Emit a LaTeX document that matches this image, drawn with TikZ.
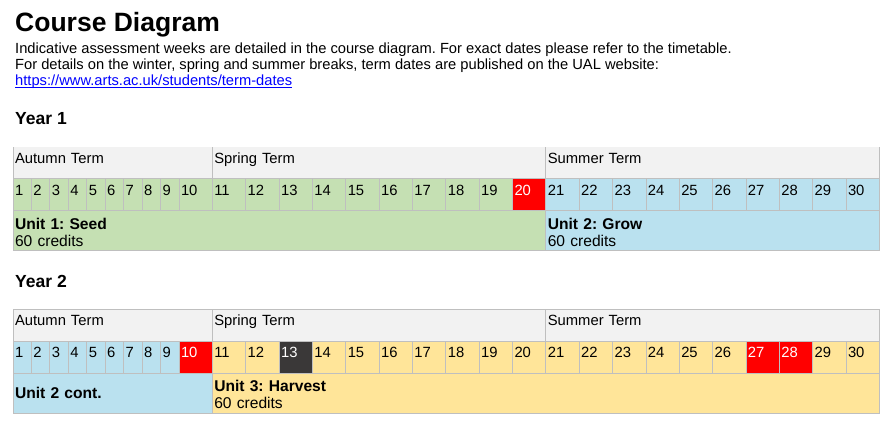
\documentclass[tikz,border=0pt]{standalone}
\usepackage{fontspec}
\setmainfont{Liberation Sans}
\usepackage{tikz}
\usetikzlibrary{positioning}
\frenchspacing
\definecolor{clrGrid}{HTML}{BFBFBF}
\definecolor{clrHead}{HTML}{F2F2F2}
\definecolor{clrSeed}{HTML}{C5E0B3}
\definecolor{clrGrow}{HTML}{BAE1EF}
\definecolor{clrHarvest}{HTML}{FFE599}
\definecolor{clrAssess}{HTML}{FF0000}
\definecolor{clrDark}{HTML}{3A3838}
\definecolor{clrLink}{HTML}{0000FF}
\tikzstyle{txt}=[inner sep=0pt, anchor=base west, font=\fontsize{14.7}{16.5}\selectfont]
\tikzstyle{yearlbl}=[txt, font=\bfseries\fontsize{17.5}{20}\selectfont]
\tikzstyle{cell}=[anchor=north west, inner xsep=2pt, inner ysep=0pt, outer sep=0pt,
align=left, line width=0.8pt, font=\fontsize{14.8}{17}\selectfont]
\tikzstyle{termhead}=[cell, fill=clrHead, text height=16pt, text depth=15.5pt]
\tikzstyle{weekbox}=[cell, draw=clrGrid, text height=16.5pt, text depth=15.5pt]
\tikzstyle{unitbox}=[cell, draw=clrGrid, text height=18.5pt, text depth=21.5pt,
font=\fontsize{15.6}{17.3}\selectfont]
\tikzstyle{unitmid}=[cell, draw=clrGrid, minimum height=40pt, font=\fontsize{15.6}{17.3}\selectfont]
\tikzstyle{gridline}=[draw=clrGrid, line width=0.8pt]

\begin{document}
\begin{tikzpicture}[x=1pt, y=-1pt]
	\useasboundingbox (0,0) rectangle (894,423);

	% heading and notes
	\node[txt, font=\bfseries\fontsize{26.5}{30}\selectfont] (title) at (15,31) {Course Diagram};
	\node[txt] (note1) at (15,53) {Indicative assessment weeks are detailed in the course diagram. For exact dates please refer to the timetable.};
	\node[txt] (note2) at (15,69.5) {For details on the winter, spring and summer breaks, term dates are published on the UAL website:};
	\node[txt, text=clrLink] (link) at (15,85.5) {https://www.arts.ac.uk/students/term-dates};
	\draw[clrLink, line width=0.9pt] ([yshift=-1.8pt]link.base west) -- ([yshift=-1.8pt]link.base east);

	% ---- Year 1 ----
	\node[yearlbl] (year1) at (15,124) {Year 1};

	\node[termhead, text width=195.3pt] (y1aut) at (13,147) {Autumn Term};
	\node[termhead, text width=329.5pt] (y1spr) at (y1aut.north east) {Spring Term};
	\node[termhead, text width=329.5pt] (y1sum) at (y1spr.north east) {Summer Term};
	\draw[gridline] (y1aut.north west) -- (y1aut.south west);
	\draw[gridline] (y1spr.north west) -- (y1spr.south west);
	\draw[gridline] (y1sum.north west) -- (y1sum.south west);
	\draw[gridline] (y1sum.north east) -- (y1sum.south east);

	\foreach \w in {1,...,30}{
		\pgfmathsetmacro{\cx}{\w<10 ? 13+(\w-1)*18.444 : 179+(\w-10)*33.35}
		\pgfmathsetmacro{\tw}{(\w<10 ? 18.444 : 33.35)-4}
		\ifnum\w=20 \def\clr{clrAssess}\def\tclr{white}%
		\else\ifnum\w<20 \def\clr{clrSeed}\def\tclr{black}%
		\else \def\clr{clrGrow}\def\tclr{black}\fi\fi
		\node[weekbox, fill=\clr, text=\tclr, text width=\tw pt] (y1w\w) at (\cx,178.5) {\w};
	}

	\node[unitbox, fill=clrSeed, text width=528.8pt] (unit1) at (y1w1.south west) {\textbf{Unit 1: Seed}\\60 credits};
	\node[unitbox, fill=clrGrow, text width=329.5pt] (unit2) at (unit1.north east) {\textbf{Unit 2: Grow}\\60 credits};

	% ---- Year 2 ----
	\node[yearlbl] (year2) at (15,287) {Year 2};

	\node[termhead, draw=clrGrid, text width=195.3pt] (y2aut) at (13,309.5) {Autumn Term};
	\node[termhead, draw=clrGrid, text width=329.5pt] (y2spr) at (y2aut.north east) {Spring Term};
	\node[termhead, draw=clrGrid, text width=329.5pt] (y2sum) at (y2spr.north east) {Summer Term};

	\foreach \w in {1,...,30}{
		\pgfmathsetmacro{\cx}{\w<10 ? 13+(\w-1)*18.444 : 179+(\w-10)*33.35}
		\pgfmathsetmacro{\tw}{(\w<10 ? 18.444 : 33.35)-4}
		\def\clr{clrHarvest}\def\tclr{black}%
		\ifnum\w<10 \def\clr{clrGrow}\fi
		\ifnum\w=10 \def\clr{clrAssess}\def\tclr{white}\fi
		\ifnum\w=13 \def\clr{clrDark}\def\tclr{white}\fi
		\ifnum\w=27 \def\clr{clrAssess}\def\tclr{white}\fi
		\ifnum\w=28 \def\clr{clrAssess}\def\tclr{white}\fi
		\node[weekbox, fill=\clr, text=\tclr, text width=\tw pt] (y2w\w) at (\cx,341) {\w};
	}

	\node[unitmid, fill=clrGrow, text width=195.3pt] (unit2c) at (y2w1.south west) {\textbf{Unit 2 cont.}};
	\node[unitbox, fill=clrHarvest, text width=663pt] (unit3) at (unit2c.north east) {\textbf{Unit 3: Harvest}\\60 credits};

\end{tikzpicture}
\end{document}
